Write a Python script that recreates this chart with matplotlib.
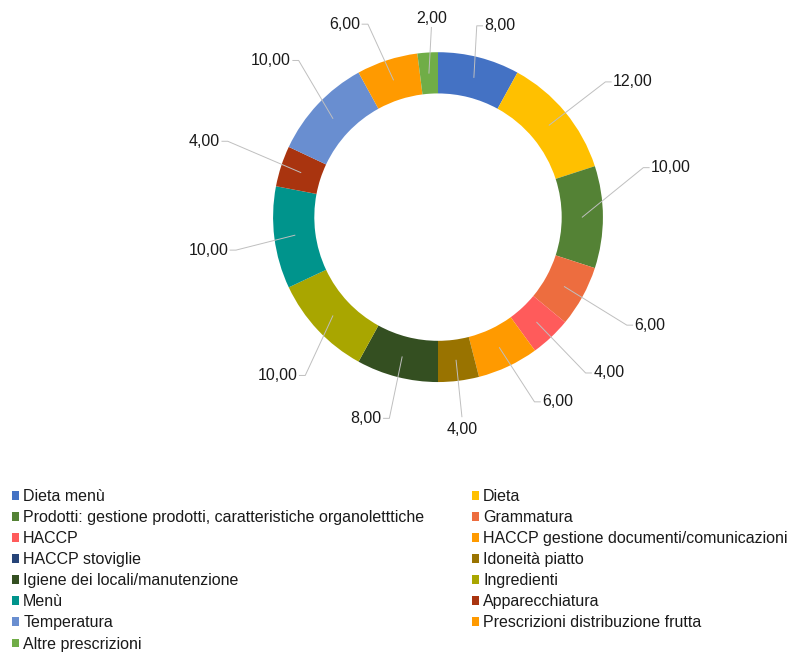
import numpy as np
import matplotlib.pyplot as plt
from matplotlib.patches import Patch

plt.rcParams['font.family'] = ['Liberation Sans', 'DejaVu Sans']

# Data
categories = [
    'Dieta menù', 'Dieta',
    'Prodotti: gestione prodotti, caratteristiche organoletttiche', 'Grammatura',
    'HACCP', 'HACCP gestione documenti/comunicazioni',
    'HACCP stoviglie', 'Idoneità piatto',
    'Igiene dei locali/manutenzione', 'Ingredienti',
    'Menù', 'Apparecchiatura',
    'Temperatura', 'Prescrizioni distribuzione frutta',
    'Altre prescrizioni',
]
values = [8, 12, 10, 6, 4, 6, 0, 4, 8, 10, 10, 4, 10, 6, 2]
colors = [
    '#4472C4', '#FFC000', '#548235', '#ED6D3F', '#FF5B5B', '#FF9A00',
    '#264478', '#997300', '#344F21', '#A9A600', '#00948C', '#A9340F',
    '#698ED0', '#FF9A00', '#70AD47',
]

# layout: where each leader line ends (in units of the outer radius)
label_anchor = [
    (0.27, 1.16), (1.05, 0.82), (1.28, 0.30), (1.18, -0.655), (0.93, -0.945),
    (0.62, -1.12), None, (0.145, -1.21), (-0.33, -1.22), (-0.84, -0.96),
    (-1.26, -0.20), (-1.31, 0.46), (-0.88, 0.95), (-0.46, 1.17), (-0.04, 1.15),
]

fig = plt.figure(figsize=(8, 6.55), dpi=100)
ax = fig.add_axes([0.135, 0.316, 0.825, 0.705])

R = 1.0
width = 0.25
wedges, _ = ax.pie(values, colors=colors, startangle=90, counterclock=False,
                   radius=R, wedgeprops=dict(width=width, edgecolor='none'))

# data labels with leader lines
total = sum(values)
start = 90.0
for i, v in enumerate(values):
    ang = start - v / total * 360 / 2
    start -= v / total * 360
    if v == 0 or label_anchor[i] is None:
        continue
    a = np.deg2rad(ang)
    rm = R - width / 2
    p0 = (rm * np.cos(a), rm * np.sin(a))
    ex, ey = label_anchor[i]
    txt = f'{v:.2f}'.replace('.', ',')
    if abs(ex) < 0.2:
        # nearly vertical leader, text centred above or below
        ax.plot([p0[0], ex], [p0[1], ey], color='#BFBFBF', lw=0.7, zorder=3)
        ax.text(ex, ey + (0.01 if ey > 0 else -0.035), txt, ha='center',
                va='bottom' if ey > 0 else 'top', fontsize=11.5, color='#1a1a1a')
        continue
    side = 1 if ex > 0 else -1
    p1 = (ex - side * 0.035, ey)
    ax.plot([p0[0], p1[0], ex], [p0[1], p1[1], ey], color='#BFBFBF', lw=0.7, zorder=3)
    ax.text(ex + side * 0.012, ey, txt, ha='left' if side > 0 else 'right',
            va='center', fontsize=11.5, color='#1a1a1a')

ax.set_xlim(-2, 2)
ax.set_ylim(-1.4, 1.4)
ax.set_aspect('equal')
ax.axis('off')

handles = [Patch(facecolor=c, edgecolor='none') for c in colors]
left_idx = list(range(0, len(categories), 2))
right_idx = list(range(1, len(categories), 2))
leg_kw = dict(frameon=False, fontsize=11.5, handlelength=0.45, handleheight=0.45,
              handletextpad=0.25, labelspacing=0.38, borderaxespad=0, borderpad=0,
              labelcolor='#1a1a1a')
fig.legend([handles[i] for i in left_idx], [categories[i] for i in left_idx],
           loc='upper left', bbox_to_anchor=(0.015, 0.2534), **leg_kw)
fig.legend([handles[i] for i in right_idx], [categories[i] for i in right_idx],
           loc='upper left', bbox_to_anchor=(0.59, 0.2534), **leg_kw)

fig.savefig('out.png', dpi=100)
